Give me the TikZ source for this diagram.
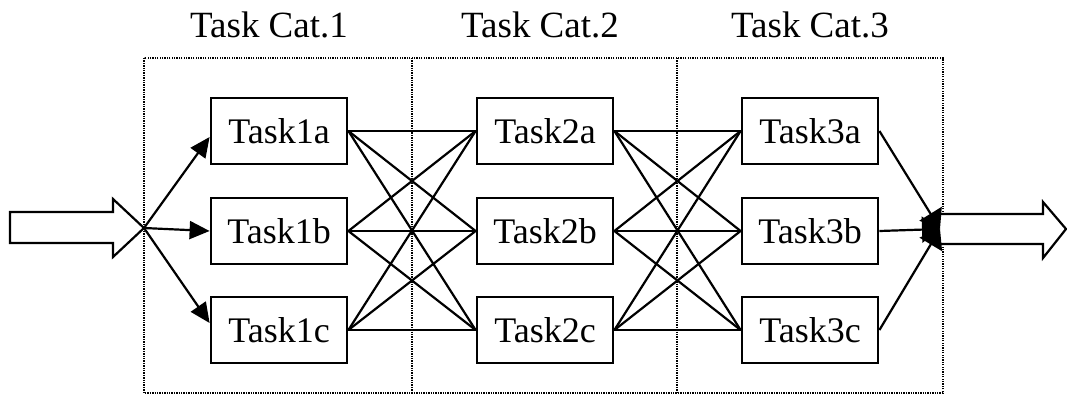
\documentclass[tikz,border=0pt]{standalone}
\usepackage{fontspec}
\setmainfont{Liberation Serif}
\usetikzlibrary{arrows.meta,calc}
\begin{document}
\begin{tikzpicture}[x=1pt,y=-1pt,
  task/.style={draw,line width=2.8pt,minimum width=136pt,minimum height=66pt,
    inner sep=0pt,font=\fontsize{36}{40}\selectfont},
  cat/.style={anchor=base,inner sep=0pt,font=\fontsize{37}{40}\selectfont},
  link/.style={line width=2.2pt},
  feed/.style={line width=2.2pt,-{Triangle[length=20pt,width=18pt]}},
  frame/.style={line width=1.4pt,dash pattern=on 1.3pt off 1.1pt},
  bigarrow/.style={draw,line width=2.2pt,line join=miter,fill=white}]
\useasboundingbox (0,0) rectangle (1067,405);

% category frame and dividers
\draw[frame] (144,58) rectangle (943,393);
\draw[frame] (412,58) -- (412,393);
\draw[frame] (677,58) -- (677,393);

% category titles
\node[cat] (c1) at (269,37) {Task Cat.1};
\node[cat] (c2) at (540,37) {Task Cat.2};
\node[cat] (c3) at (810,37) {Task Cat.3};

% task boxes
\foreach \col/\x in {1/279,2/545,3/810}{
  \node[task] (t\col a) at (\x,131) {Task\col a};
  \node[task] (t\col b) at (\x,231) {Task\col b};
  \node[task] (t\col c) at (\x,330) {Task\col c};
}

% input and output junctions
\coordinate (in) at (144,228);
\coordinate (out) at (940,229);

% input arrow
\draw[bigarrow] (10,212) -- (113,212) -- (113,199) -- (in) -- (113,257)
  -- (113,243) -- (10,243) -- cycle;

% output arrow
\draw[bigarrow] (out) ++(0,-15) -- (1043,214) -- (1043,202) -- (1066,229)
  -- (1043,258) -- (1043,244) -- (940,244);

% fan-out into the first category
\draw[feed] (in) -- ([yshift=-6pt]t1a.west);
\draw[feed] (in) -- (t1b.west);
\draw[feed] (in) -- ([yshift=7pt]t1c.west);

% full connections between neighbouring categories
\foreach \s in {a,b,c}{
  \foreach \t in {a,b,c}{
    \draw[link] (t1\s.east) -- (t2\t.west);
    \draw[link] (t2\s.east) -- (t3\t.west);
  }
}

% fan-in from the last category
\foreach \s in {a,b,c}{
  \draw[line width=2.2pt,-{Triangle[length=18pt,width=26pt]}] (t3\s.east) -- (out);
}
\end{tikzpicture}
\end{document}
